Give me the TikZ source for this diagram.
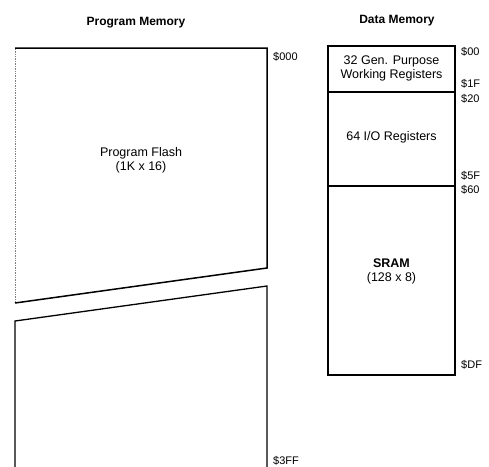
\documentclass[tikz,border=0pt]{standalone}
\usepackage{fontspec}
\setmainfont{Liberation Sans}
\usetikzlibrary{positioning}

\begin{document}
\begin{tikzpicture}[x=1pt, y=-1pt,
  every node/.style={font=\fontsize{12.5}{14}\selectfont, align=center},
  memtitle/.style={font=\fontsize{12}{14}\selectfont\bfseries},
  addr/.style={anchor=west, inner sep=0pt, font=\fontsize{11}{13}\selectfont}]
  \useasboundingbox (0,0) rectangle (489,466);
  % ---------- PROGRAM MEMORY ----------
  \coordinate (PT1) at (15,48);
  \coordinate (PT2) at (267,48);
  \coordinate (PB1) at (15,303);
  \coordinate (PB2) at (267,268);
  \coordinate (QT1) at (15,321);
  \coordinate (QT2) at (267,286);
  \coordinate (QB1) at (15,470);
  \coordinate (QB2) at (267,470);
  \draw[gray, densely dotted, line width=0.7pt] (PB1) -- (PT1);
  \draw[line width=1.5pt] (PT1) -- (PT2) -- (PB2) -- (PB1);
  \draw[line width=1.3pt] (QB1) -- (QT1) -- (QT2) -- (QB2);
  \node[memtitle] (progtitle) at (136,23) {Program Memory};
  \node (flash) at (141,160) {Program Flash\\(1K x 16)};
  \node[addr] (a000) at (273,57) {\$000};
  \node[addr] (a3ff) at (273,461) {\$3FF};
  % ---------- DATA MEMORY ----------
  \coordinate (DT1) at (328,46);
  \coordinate (DB2) at (455,375);
  \coordinate (R1) at (328,92);
  \coordinate (R2) at (455,92);
  \coordinate (S1) at (328,186);
  \coordinate (S2) at (455,186);
  \draw[line width=1.2pt] (R1) -- (R2);
  \draw[line width=1.2pt] (S1) -- (S2);
  \draw[line width=2.8pt] (DT1) rectangle (DB2);
  \node[memtitle] (datatitle) at (397,21) {Data Memory};
  \node (regs) at (391.5,68) {32 Gen. Purpose\\Working Registers};
  \node (io) at (391.5,137) {64 I/O Registers};
  \node (sram) at (391.5,271) {\textbf{SRAM}\\(128 x 8)};
  \node[addr] (a00) at (461,52) {\$00};
  \node[addr] (a1f) at (461,84) {\$1F};
  \node[addr] (a20) at (461,99) {\$20};
  \node[addr] (a5f) at (461,176) {\$5F};
  \node[addr] (a60) at (461,190) {\$60};
  \node[addr] (adf) at (461,365) {\$DF};
\end{tikzpicture}
\end{document}
